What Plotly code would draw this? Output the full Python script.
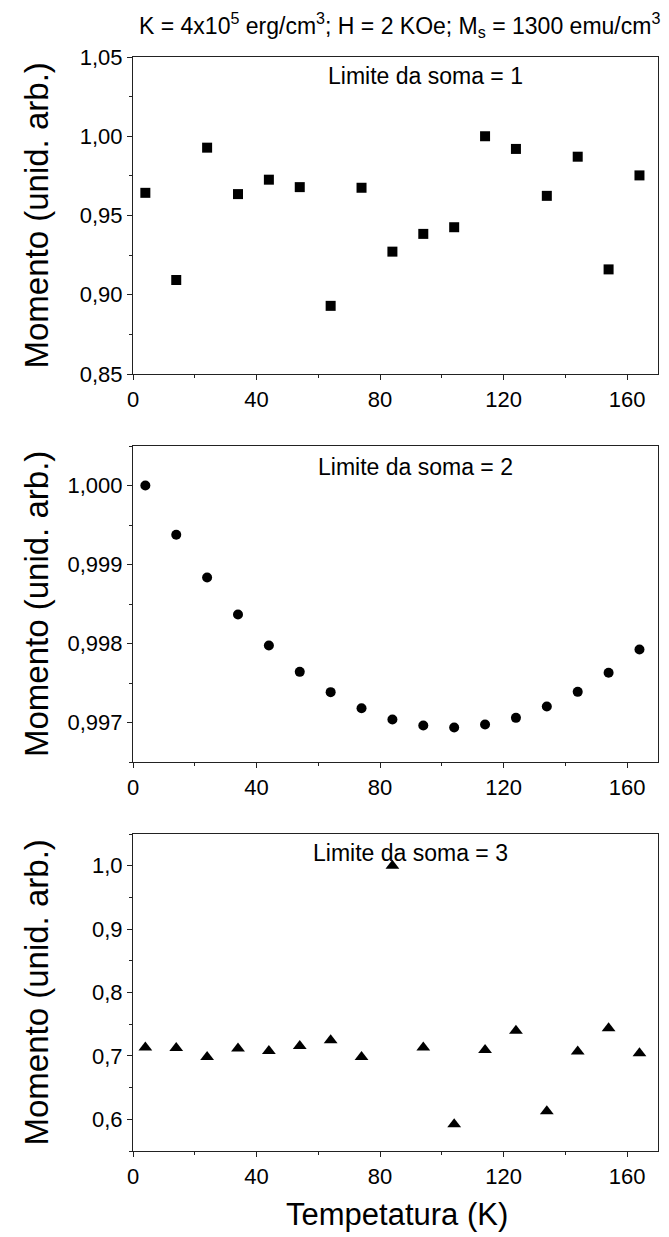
import plotly.graph_objects as go

temperatura = [4, 14, 24, 34, 44, 54, 64, 74, 84, 94, 104, 114, 124, 134, 144, 154, 164]
momento_lim1 = [0.9643, 0.9093, 0.9928, 0.9635, 0.9726, 0.9679, 0.8930, 0.9675, 0.9272,
                0.9384, 0.9426, 1.0000, 0.9920, 0.9624, 0.9871, 0.9160, 0.9753]
momento_lim2 = [1.000000, 0.999376, 0.998835, 0.998367, 0.997975, 0.997641, 0.997384,
                0.997181, 0.997038, 0.996962, 0.996937, 0.996975, 0.997059, 0.997203,
                0.997388, 0.997629, 0.997924]
momento_lim3 = [0.7132, 0.7126, 0.6984, 0.7116, 0.7079, 0.7158, 0.7247, 0.6984, 1.0000,
                0.7132, 0.5920, 0.7095, 0.7395, 0.6126, 0.7068, 0.7437, 0.7042]

panel_labels = ["Limite da soma = 1", "Limite da soma = 2", "Limite da soma = 3"]
y_title = "Momento (unid. arb.)"
x_title = "Tempetatura (K)"
top_title = ("K = 4x10<sup>5</sup> erg/cm<sup>3</sup>; H = 2 KOe; "
             "M<sub>s</sub> = 1300 emu/cm<sup>3</sup>")

FONT = "Liberation Sans, Arial, sans-serif"
W, H = 669, 1237
ML, MR, MT, MB = 133, 11, 57, 86
PH = H - MT - MB
PW = W - ML - MR

def dom(top_px, bot_px):
    return [1 - (bot_px - MT) / PH, 1 - (top_px - MT) / PH]

fig = go.Figure()
series = [
    (momento_lim1, "square", 10, "x", "y"),
    (momento_lim2, "circle", 10, "x2", "y2"),
    (momento_lim3, "triangle-up", 12, "x3", "y3"),
]
for vals, sym, sz, xa, ya in series:
    fig.add_trace(go.Scatter(x=temperatura, y=vals, mode="markers", xaxis=xa, yaxis=ya,
                             marker=dict(symbol=sym, size=sz, color="black",
                                         line=dict(width=0)),
                             showlegend=False, hoverinfo="skip"))

axis_common = dict(showgrid=False, zeroline=False, showline=True, linecolor="#222",
                   linewidth=1.2, mirror=True, ticks="outside", ticklen=5,
                   tickwidth=1.2, tickcolor="#222",
                   tickfont=dict(family=FONT, size=22, color="black"))

domains = [dom(57, 374), dom(446, 762), dom(834, 1151)]
yspecs = [
    dict(range=[0.85, 1.05], dtick=0.05, tick0=0.85, tickformat=".2f", minor_dtick=0.025),
    dict(range=[0.9965, 1.0005], dtick=0.001, tick0=0.997, tickformat=".3f", minor_dtick=0.0005),
    dict(range=[0.55, 1.05], dtick=0.1, tick0=0.6, tickformat=".1f", minor_dtick=0.05),
]
layout_axes = {}
for i, (d, ys) in enumerate(zip(domains, yspecs)):
    sfx = "" if i == 0 else str(i + 1)
    layout_axes["xaxis" + sfx] = dict(axis_common, domain=[0, 1], range=[0, 170],
                                       tickmode="linear", tick0=0, dtick=40,
                                       anchor="y" + sfx,
                                       minor=dict(dtick=20, tick0=0, ticks="outside",
                                                  ticklen=3, tickcolor="#222"))
    layout_axes["yaxis" + sfx] = dict(axis_common, domain=d, range=ys["range"],
                                       tickmode="linear", tick0=ys["tick0"],
                                       dtick=ys["dtick"], tickformat=ys["tickformat"],
                                       anchor="x" + sfx,
                                       minor=dict(dtick=ys["minor_dtick"], ticks="outside",
                                                  ticklen=3, tickcolor="#222"))

annotations = []
label_pos = [(94.7, 1.038, "x", "y"), (91.5, 1.00023, "x2", "y2"), (89.9, 1.020, "x3", "y3")]
for (lx, ly, xr, yr), txt in zip(label_pos, panel_labels):
    annotations.append(dict(x=lx, y=ly, xref=xr, yref=yr, text=txt, showarrow=False,
                            xanchor="center", yanchor="middle",
                            font=dict(family=FONT, size=23, color="black")))
for yr in ["y domain", "y2 domain", "y3 domain"]:
    annotations.append(dict(x=(36 - ML) / PW, y=0.5, xref="paper", yref=yr, text=y_title,
                            textangle=-90, showarrow=False, xanchor="center",
                            yanchor="middle",
                            font=dict(family=FONT, size=33, color="black")))
annotations.append(dict(x=(397 - ML) / PW, y=(MT + PH - 1214) / PH, xref="paper",
                        yref="paper", text=x_title, showarrow=False, xanchor="center",
                        yanchor="middle", font=dict(family=FONT, size=31, color="black")))
annotations.append(dict(x=(137 - ML) / PW, y=1 + (MT - 25) / PH, xref="paper",
                        yref="paper", text=top_title, showarrow=False, xanchor="left",
                        yanchor="middle", font=dict(family=FONT, size=23, color="black")))

fig.update_layout(width=W, height=H, margin=dict(l=ML, r=MR, t=MT, b=MB, autoexpand=False),
                  paper_bgcolor="white", plot_bgcolor="white", separators=",.",
                  annotations=annotations, **layout_axes)

fig.write_html("out.html", config={"displayModeBar": False})
